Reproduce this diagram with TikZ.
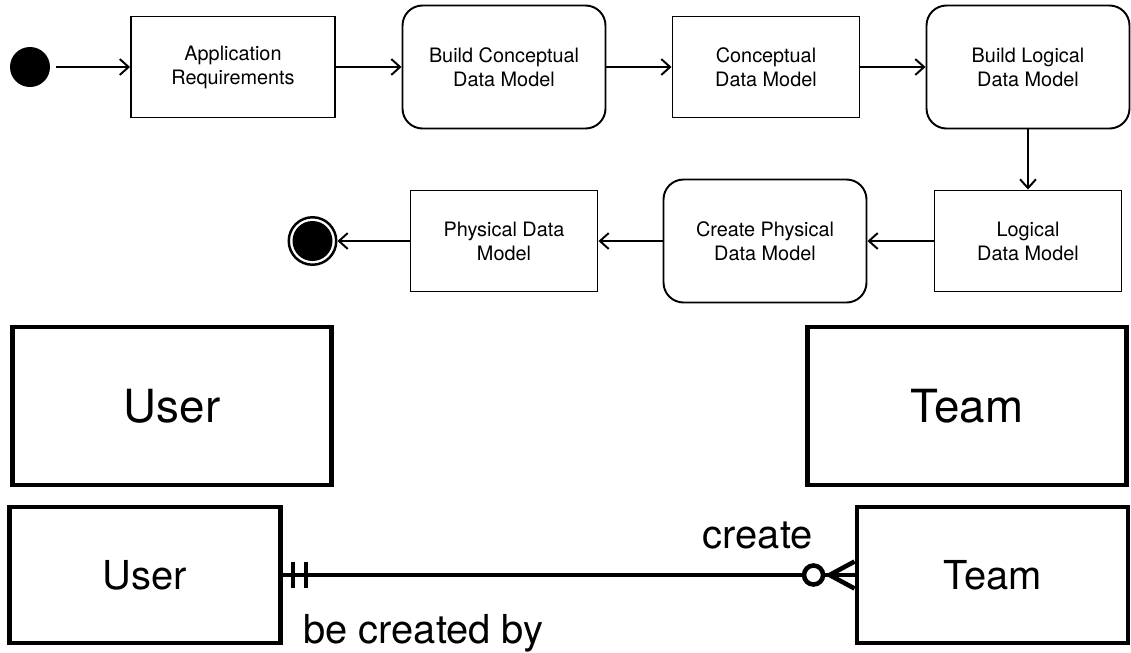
\documentclass[tikz,border=0pt]{standalone}
\usepackage{fontspec}
\setmainfont{TeX Gyre Heros}
\usetikzlibrary{positioning, arrows.meta, calc}

\begin{document}
\begin{tikzpicture}[
    on grid,
    node distance=5.24cm,
    >={Straight Barb[length=5pt,width=9pt]},
    activity/.style={draw, line width=1.1pt, minimum width=3.74cm, minimum height=2.02cm, align=center, font=\fontsize{11.3}{13.6}\selectfont},
    action/.style={activity, rounded corners=0.4cm, minimum width=4.06cm, minimum height=2.46cm},
    entity/.style={draw, line width=2.8pt, minimum width=6.38cm, minimum height=3.16cm, font=\fontsize{26}{30}\selectfont},
    erbox/.style={draw, line width=2.8pt, minimum width=5.42cm, minimum height=2.72cm, font=\fontsize{22.7}{26}\selectfont},
    erline/.style={line width=2.6pt},
    flow/.style={->, line width=1.1pt}
]
    \useasboundingbox (0,0) rectangle (22.62,-13.04);

    % Activities
    \node[circle, fill, minimum size=0.8cm, inner sep=0pt] (start) at (0.6,-1.34) {};
    \node[activity, minimum width=4.08cm, right=4.06cm of start] (req) {Application\\Requirements};
    \node[action, right=5.42cm of req] (buildCdm) {Build Conceptual\\Data Model};
    \node[activity, right=of buildCdm] (cdm) {Conceptual\\Data Model};
    \node[action, right=of cdm] (buildLdm) {Build Logical\\Data Model};
    \node[activity, below=3.48cm of buildLdm] (ldm) {Logical\\Data Model};
    \node[action, left=5.26cm of ldm] (createPdm) {Create Physical\\Data Model};
    \node[activity, left=5.22cm of createPdm] (pdm) {Physical Data\\Model};
    \node[circle, draw, line width=1.4pt, minimum size=0.95cm, inner sep=0pt, left=3.83cm of pdm] (stop) {};
    \fill (stop) circle (0.4cm);

    % Flow
    \path[flow]
        (start) edge[shorten <=0.12cm] (req)
        (req) edge (buildCdm)
        (buildCdm) edge (cdm)
        (cdm) edge (buildLdm)
        (buildLdm) edge (ldm)
        (ldm) edge (createPdm)
        (createPdm) edge (pdm)
        (pdm) edge (stop);

    % Entities
    \node[entity] (user) at (3.44,-8.12) {User};
    \node[entity] (team) at (19.34,-8.12) {Team};
    \node[erbox] (erUser) at (2.9,-11.5) {User};
    \node[erbox] (erTeam) at (19.85,-11.5) {Team};

    % Relationship
    \draw[erline] (erUser) -- (erTeam);
    \draw[erline, fill=white] ($(erTeam.west)+(-0.82,0)$) circle (0.19);
    \draw[erline] ($(erTeam.west)+(-0.5,0)$) -- ($(erTeam.west)+(0,0.27)$)
                  ($(erTeam.west)+(-0.5,0)$) -- ($(erTeam.west)+(0,-0.27)$);
    \draw[erline] ($(erUser.east)+(0.2,0.26)$) -- ($(erUser.east)+(0.2,-0.26)$)
                  ($(erUser.east)+(0.46,0.26)$) -- ($(erUser.east)+(0.46,-0.26)$);
    \node[anchor=base east, inner sep=0pt, font=\fontsize{22.7}{26}\selectfont] (lblCreate) at (16.26,-10.96) {create};
    \node[anchor=base west, inner sep=0pt, font=\fontsize{22.7}{26}\selectfont] (lblCreatedBy) at (6.06,-12.86) {be created by};
\end{tikzpicture}
\end{document}
